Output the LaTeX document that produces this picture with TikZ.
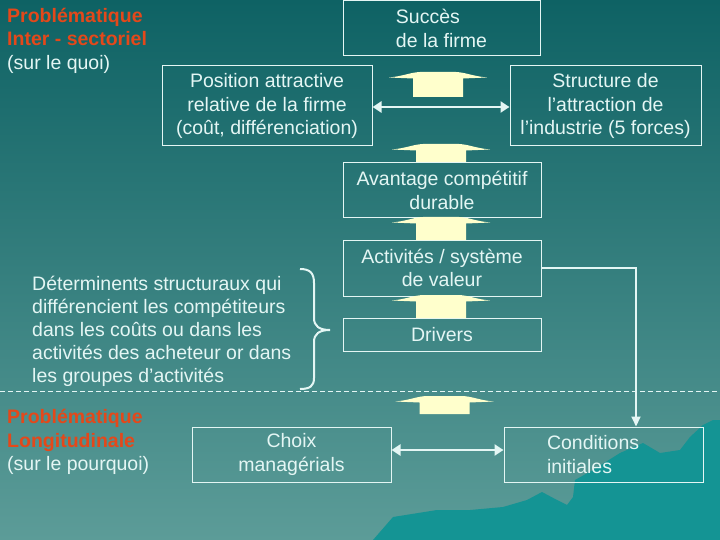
\documentclass[tikz,border=0pt]{standalone}
\usepackage{fontspec}
\setmainfont{Liberation Sans}
\usetikzlibrary{arrows.meta}
\definecolor{bgtop}{RGB}{14,98,100}
\definecolor{bgbot}{RGB}{92,156,152}
\definecolor{mount}{RGB}{20,148,148}
\definecolor{fg}{RGB}{228,246,244}
\definecolor{redt}{RGB}{228,72,26}
\definecolor{pale}{RGB}{255,255,204}
\newcommand\blockup[3]{%
  \fill[pale] ({#1-49},{#2+5.5}) .. controls ({#1-34},{#2+4}) and ({#1-28},{#2+0.5}) .. ({#1-18},{#2})
    -- ({#1+18},{#2}) .. controls ({#1+28},{#2+0.5}) and ({#1+34},{#2+4}) .. ({#1+49},{#2+5.5})
    -- ({#1+25},{#2+6.5}) -- ({#1+25},{#3}) -- ({#1-25},{#3}) -- ({#1-25},{#2+6.5}) -- cycle;}
\begin{document}
\begin{tikzpicture}[x=1pt,y=-1pt,
  every node/.style={font=\fontsize{19.5}{23.5}\selectfont, text=fg, inner sep=0pt},
  box/.style={draw=fg, line width=1pt, align=center},
  conn/.style={draw=fg, line width=2pt},
  dbl/.style={draw=fg, line width=2.6pt, {Triangle[width=11pt,length=9pt]}-{Triangle[width=11pt,length=9pt]}},
  redlbl/.style={anchor=north west, align=left}
]
\useasboundingbox (0,0) rectangle (720,540);
\shade[top color=bgtop, bottom color=bgbot] (0,0) rectangle (720,540);
% mountains
\fill[mount] (373,540) -- (393,517) -- (437,510) -- (470,510) -- (503,507) -- (527,500)
  -- (542,492) -- (557,500) -- (567,505) -- (573,497) -- (575,480) -- (593,470)
  -- (620,453) -- (643,443) -- (660,453) -- (680,450) -- (690,437) -- (703,425)
  -- (713,420) -- (720,420) -- (720,540) -- cycle;

% labels
\node[redlbl] (pinter) at (7,8) {\textcolor{redt}{\bfseries Problématique}\\\textcolor{redt}{\bfseries Inter - sectoriel}\\(sur le quoi)};
\node[redlbl] (plong) at (7,409) {\textcolor{redt}{\bfseries Problématique}\\\textcolor{redt}{\bfseries Longitudinale}\\(sur le pourquoi)};

% boxes
\node[box, minimum width=197pt, minimum height=55pt, align=left] (succ) at (441.5,28.5) {Succès\\de la firme};
\node[box, minimum width=210pt, minimum height=80pt] (pos) at (267,106) {Position attractive\\relative de la firme\\(coût, différenciation)};
\node[box, minimum width=191pt, minimum height=80pt] (str) at (605.5,106) {Structure de\\l’attraction de\\l’industrie (5 forces)};
\node[box, minimum width=198pt, minimum height=55pt] (av) at (442,190.5) {Avantage compétitif\\durable};
\node[box, minimum width=198pt, minimum height=56pt] (act) at (442,268) {Activités / système\\de valeur};
\node[box, minimum width=198pt, minimum height=33pt] (drv) at (442,334.5) {Drivers};
\node[box, minimum width=199pt, minimum height=55pt] (cho) at (291.5,454.5) {Choix\\managérials};
\node[box, minimum height=55pt, inner xsep=43pt, text width=113pt, align=left] (cond) at (603.5,454.5) {Conditions\\initiales};

\node[anchor=north west, align=left, font=\fontsize{19.5}{23}\selectfont] (det) at (32,276) {Déterminents structuraux qui\\différencient les compétiteurs\\dans les coûts ou dans les\\activités des acheteur or dans\\les groupes d’activités};

% block arrows
\blockup{438}{72}{97}
\blockup{441}{144}{162}
\blockup{441}{217}{240}
\blockup{441}{295}{318}
\blockup{444.5}{396}{414}

% double arrows
\draw[dbl] ([yshift=-1pt]pos.east) -- ([yshift=-1pt]str.west);
\draw[dbl] ([yshift=4.5pt]cho.east) -- ([yshift=4.5pt]cond.west);

% connector to initial conditions
\coordinate (k) at (636,268);
\draw[conn, -{Triangle[width=9pt,length=10pt]}] (act.east) -- (k) -- (k |- cond.north);

% dashed separator
\coordinate (dl) at (0,391);
\coordinate (dr) at (720,391);
\draw[fg, line width=1pt, dash pattern=on 5pt off 3pt] (dl) -- (dr);

% brace
\draw[fg, line width=2pt] (300,269) .. controls (310,269) and (314,273) .. (314,283) -- (314,318)
  .. controls (314,326) and (319,330) .. (330,330) .. controls (319,330) and (314,334) .. (314,342)
  -- (314,378) .. controls (314,386) and (310,389) .. (300,389);
\end{tikzpicture}
\end{document}
